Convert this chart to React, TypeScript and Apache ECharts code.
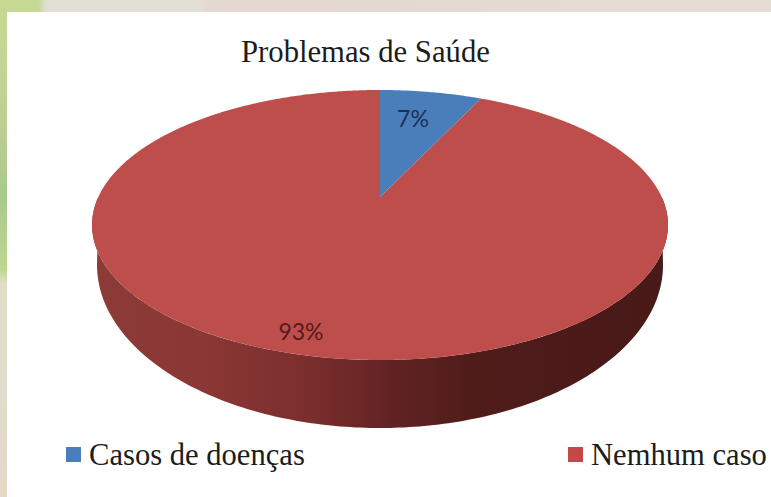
import React, { useEffect, useRef } from "react";
import * as echarts from "echarts";

const categories = ["Casos de doenças", "Nemhum caso"];
const values = [7, 93];
const colors = ["#4a7ebb", "#bd4e4b"];
const legendColors = ["#4a7ebb", "#c4474a"];
const labelPos = [[413, 118], [301, 331]];
const titleText = "Problemas de Saúde";

// Projected disc geometry (tilted circle seen in perspective)
const CX = 380, CY = 225, RY = 135, K = 0.2074, A = 281.7, Q = -28;
const project = (deg: number) => {
  const t = (deg * Math.PI) / 180;
  const u = Math.sin(t), v = Math.cos(t);
  const d = 1 + K * v;
  return [CX + (A * u) / d, CY + (-RY * v + Q) / d];
};
const total = values.reduce((a, b) => a + b, 0);

const sliceItem = (i: number) => (_p: any, api: any) => {
  const before = values.slice(0, i).reduce((a, b) => a + b, 0);
  const start = (before / total) * 360;
  const end = ((before + api.value(0)) / total) * 360;
  const pts: number[][] = [[CX, CY + Q]];
  const steps = Math.ceil(end - start) * 2;
  for (let s = 0; s <= steps; s++) pts.push(project(start + ((end - start) * s) / steps));
  return {
    type: "group",
    children: [
      { type: "polygon", shape: { points: pts }, style: { fill: colors[i] } },
      {
        type: "text",
        z2: 10,
        style: {
          text: `${api.value(0)}%`,
          x: labelPos[i][0],
          y: labelPos[i][1],
          align: "center",
          verticalAlign: "middle",
          fill: i === 0 ? "#1b3154" : "#571a1c",
          font: '23px Lato, "Open Sans", sans-serif',
        },
      },
    ],
  };
};

const wallItem = () => {
  const BCY = 265, BRX = 283, BRY = 163;
  const pts: number[][] = [];
  for (let d = 0; d <= 180; d += 1) {
    const a = (d * Math.PI) / 180;
    pts.push([CX + BRX * Math.cos(a), BCY + BRY * Math.sin(a)]);
  }
  for (let d = 270; d >= 90; d -= 1) pts.push(project(d));
  return {
    type: "polygon",
    shape: { points: pts },
    style: {
      fill: new echarts.graphic.LinearGradient(0, 0, 1, 0, [
        { offset: 0, color: "#8c3b39" },
        { offset: 0.2, color: "#8a3735" },
        { offset: 0.38, color: "#7a2e2c" },
        { offset: 0.5, color: "#642524" },
        { offset: 0.66, color: "#4f1c1a" },
        { offset: 1, color: "#481917" },
      ]),
    },
  };
};

export default function App() {
  const ref = useRef<HTMLDivElement>(null);
  useEffect(() => {
    const chart = echarts.init(ref.current!, undefined, { renderer: "svg" });
    const legendText = {
      fontFamily: '"Liberation Serif", serif',
      fontSize: 30.6,
      color: "#1c1c1c",
      padding: [0, 0, 0, 3],
    };
    const legendBase = {
      orient: "horizontal",
      icon: "rect",
      itemWidth: 15,
      itemHeight: 15,
      top: 439,
      padding: 0,
      selectedMode: false,
      textStyle: legendText,
    };
    chart.setOption({
      animation: false,
      backgroundColor: "#ffffff",
      title: {
        text: titleText,
        left: 241,
        top: 36,
        padding: 0,
        textStyle: {
          fontFamily: '"Liberation Serif", serif',
          fontWeight: "normal",
          fontSize: 30.7,
          color: "#1c1c1c",
        },
      },
      legend: [
        { ...legendBase, left: 66, data: [categories[0]] },
        { ...legendBase, left: 568, data: [categories[1]] },
      ],
      graphic: [
        {
          type: "rect",
          z: -1,
          shape: { x: 0, y: 0, width: 771, height: 12 },
          style: {
            fill: new echarts.graphic.LinearGradient(0, 0, 1, 0, [
              { offset: 0, color: "#c4da92" },
              { offset: 0.05, color: "#c6da96" },
              { offset: 0.06, color: "#e2e0d4" },
              { offset: 0.26, color: "#e2dfd5" },
              { offset: 0.27, color: "#e4d8d0" },
              { offset: 1, color: "#e5dcd3" },
            ]),
          },
        },
        {
          type: "rect",
          z: -1,
          shape: { x: 0, y: 12, width: 7, height: 485 },
          style: {
            fill: new echarts.graphic.LinearGradient(0, 0, 0, 1, [
              { offset: 0, color: "#c4da92" },
              { offset: 0.2, color: "#c2cf94" },
              { offset: 0.38, color: "#a9c98e" },
              { offset: 0.53, color: "#bed68e" },
              { offset: 0.56, color: "#e0ddc9" },
              { offset: 0.75, color: "#e0dccb" },
              { offset: 1, color: "#e6d8c8" },
            ]),
          },
        },
      ],
      series: [
        {
          type: "custom",
          name: "base",
          coordinateSystem: "none",
          silent: true,
          z: 2,
          data: [[total]],
          renderItem: wallItem,
        },
        ...categories.map((name, i) => ({
          type: "custom",
          name,
          coordinateSystem: "none",
          silent: true,
          z: 3,
          itemStyle: { color: legendColors[i] },
          data: [[values[i]]],
          renderItem: sliceItem(i),
        })),
      ],
    });
    return () => chart.dispose();
  }, []);
  return (
    <div
      ref={ref}
      style={{ position: "absolute", left: 0, top: 0, width: 771, height: 497 }}
    />
  );
}
